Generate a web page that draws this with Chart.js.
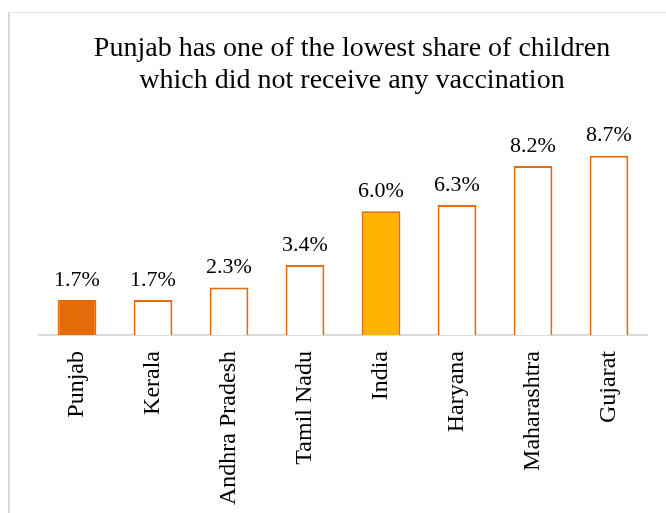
<!DOCTYPE html>
<html>
<head>
<meta charset="utf-8">
<script src="https://cdn.jsdelivr.net/npm/chart.js@4/dist/chart.umd.min.js"></script>
<style>
  html, body { margin: 0; padding: 0; background: #fff; }
  body { width: 666px; height: 513px; position: relative; overflow: hidden; }
  .frame {
    position: absolute; left: 8px; top: 12px; width: 700px; height: 600px;
    border-left: 2px solid #D9D9D9; border-top: 1px solid #E6E6E6;
  }
  .chartBox { position: absolute; left: 38px; top: 0; width: 628px; height: 513px; }
</style>
</head>
<body>
<div class="frame"></div>
<div class="chartBox"><canvas id="myChart"></canvas></div>
<script>
const states = ['Punjab', 'Kerala', 'Andhra Pradesh', 'Tamil Nadu', 'India', 'Haryana', 'Maharashtra', 'Gujarat'];
const noVaccination = [1.7, 1.7, 2.3, 3.4, 6.0, 6.3, 8.2, 8.7];
const titleLines = ['Punjab has one of the lowest share of children', 'which did not receive any vaccination'];

const orange = '#E46C0A';
// Punjab and India are highlighted, the rest are hollow
const fillColors = states.map((s) => {
  if (s === 'Punjab') return '#E36C09';
  if (s === 'India') return '#FFB300';
  return '#FFFFFF';
});

const serif = "'Liberation Serif', 'Times New Roman', serif";

const valueLabels = {
  id: 'valueLabels',
  afterDatasetsDraw(chart) {
    const { ctx } = chart;
    const meta = chart.getDatasetMeta(0);
    ctx.save();
    ctx.font = '22px ' + serif;
    ctx.fillStyle = '#000';
    ctx.textAlign = 'center';
    ctx.textBaseline = 'bottom';
    meta.data.forEach((bar, i) => {
      ctx.fillText(noVaccination[i].toFixed(1) + '%', bar.x, bar.y - 9);
    });
    ctx.restore();
  },
};

const myChartRef = document.getElementById('myChart').getContext('2d');
new Chart(myChartRef, {
  type: 'bar',
  data: {
    labels: states,
    datasets: [{
      label: 'No vaccination (%)',
      data: noVaccination,
      backgroundColor: fillColors,
      borderColor: orange,
      borderWidth: 2,
      borderSkipped: 'bottom',
      categoryPercentage: 1,
      barPercentage: 0.51,
    }],
  },
  options: {
    animation: false,
    responsive: true,
    maintainAspectRatio: false,
    layout: { padding: { left: 1, right: 1, top: 0, bottom: 0 } },
    plugins: {
      legend: { display: false },
      tooltip: { enabled: false },
      title: {
        display: true,
        text: titleLines,
        color: '#000',
        font: { family: serif, size: 28, weight: 'normal', lineHeight: 1.14 },
        padding: { top: 33, bottom: 32 },
      },
    },
    scales: {
      x: {
        grid: { display: false },
        border: { display: true, color: '#D9D9D9', width: 2 },
        ticks: {
          color: '#000',
          font: { family: serif, size: 24 },
          minRotation: 90,
          maxRotation: 90,
          autoSkip: false,
          padding: 8,
        },
        afterFit(scale) { scale.height = 178; },
      },
      y: {
        // invisible axis, only used to leave a gap on the right
        position: 'right',
        min: 0,
        max: 10,
        grid: { display: false },
        border: { display: false },
        ticks: { display: false },
        afterFit(scale) { scale.width = 18; },
      },
    },
  },
  plugins: [valueLabels],
});
</script>
</body>
</html>
